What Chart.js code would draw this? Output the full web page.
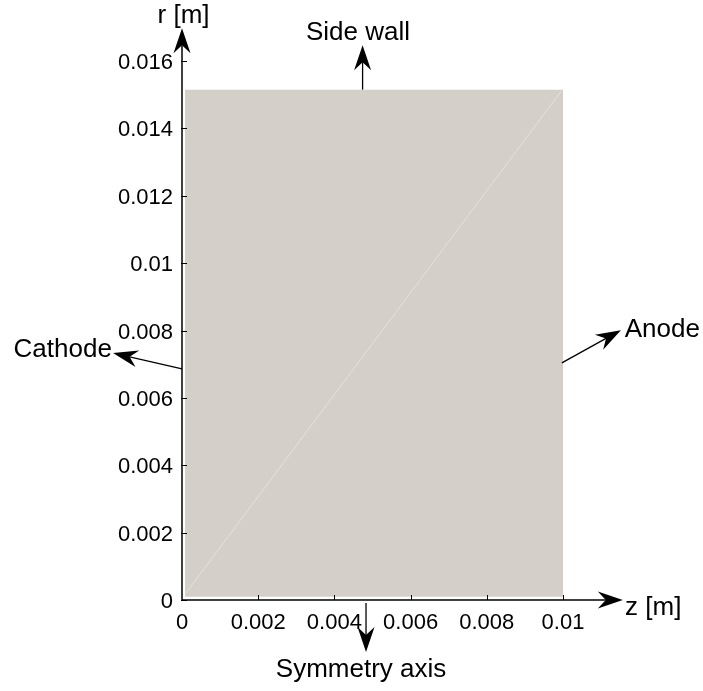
<!DOCTYPE html>
<html>
<head>
<meta charset="utf-8">
<script src="https://cdn.jsdelivr.net/npm/chart.js@4.4.0/dist/chart.umd.min.js"></script>
<style>
  body { margin: 0; background: #fff; }
  #chart { display: block; }
</style>
</head>
<body>
<canvas id="chart" width="703" height="691"></canvas>
<script>
// axis ticks
const zTicks = [0, 0.002, 0.004, 0.006, 0.008, 0.01];
const zTickLabels = ['0', '0.002', '0.004', '0.006', '0.008', '0.01'];
const rTicks = [0, 0.002, 0.004, 0.006, 0.008, 0.01, 0.012, 0.014, 0.016];
const rTickLabels = ['0', '0.002', '0.004', '0.006', '0.008', '0.01', '0.012', '0.014', '0.016'];

// computational domain in (z, r) and its diagonal
const domainZ = [0.00008, 0.01];
const domainR = [0.0001, 0.01515];
const diagonalZ = [0.0001, 0.00995];
const diagonalR = [0.0002, 0.0151];

// axis names and where the axis arrows end
const axisNames = ['z [m]', 'r [m]'];
const axisEnds = [0.01157, 0.01697];

// boundary names, each with an arrow (from -> to) and a text anchor, in data units
const boundaries = [
  { text: 'Side wall',     from: [0.00474, 0.01515],  to: [0.00474, 0.01647],  at: [0.00462, 0.01685],  align: 'center' },
  { text: 'Cathode',       from: [0, 0.00686],        to: [-0.00181, 0.00733], at: [-0.00184, 0.00742], align: 'right' },
  { text: 'Anode',         from: [0.00997, 0.00704],  to: [0.01152, 0.00801],  at: [0.01162, 0.00801],  align: 'left' },
  { text: 'Symmetry axis', from: [0.00483, -0.00009], to: [0.00483, -0.00154], at: [0.0047, -0.00208],  align: 'center' }
];

const tickFont = { family: '"Liberation Sans", Arial, sans-serif', size: 22 };
const labelFont = '26px "Liberation Sans", Arial, sans-serif';

function drawArrow(ctx, x0, y0, x1, y1) {
  const ang = Math.atan2(y1 - y0, x1 - x0);
  const len = 25, half = 8.5, notch = 17;
  const cx = Math.cos(ang), sy = Math.sin(ang);
  ctx.beginPath();
  ctx.moveTo(x0, y0);
  ctx.lineTo(x1 - cx * notch, y1 - sy * notch);
  ctx.stroke();
  const bx = x1 - cx * len, by = y1 - sy * len;
  const px = -sy * half, py = cx * half;
  ctx.beginPath();
  ctx.moveTo(x1, y1);
  ctx.lineTo(bx + px, by + py);
  ctx.lineTo(x1 - cx * notch, y1 - sy * notch);
  ctx.lineTo(bx - px, by - py);
  ctx.closePath();
  ctx.fill();
}

// axes with arrows, inward tick marks and the boundary annotations
const annotate = {
  id: 'annotate',
  afterDraw(chart) {
    const { ctx, scales: { x, y } } = chart;
    const x0 = x.getPixelForValue(0), y0 = y.getPixelForValue(0);
    ctx.save();
    ctx.strokeStyle = '#000';
    ctx.fillStyle = '#000';
    ctx.lineWidth = 1.5;

    drawArrow(ctx, x0, y0, x.getPixelForValue(axisEnds[0]), y0);
    drawArrow(ctx, x0, y0, x0, y.getPixelForValue(axisEnds[1]));

    ctx.lineWidth = 1;
    ctx.beginPath();
    rTicks.forEach(v => {
      const py = Math.round(y.getPixelForValue(v)) + 0.5;
      ctx.moveTo(x0 - 1, py);
      ctx.lineTo(x0 + 5, py);
    });
    zTicks.slice(1).forEach(v => {
      const px = Math.round(x.getPixelForValue(v)) + 0.5;
      ctx.moveTo(px, y0);
      ctx.lineTo(px, y0 - 5);
    });
    ctx.stroke();

    ctx.lineWidth = 1.3;
    boundaries.forEach(b => {
      drawArrow(ctx,
        x.getPixelForValue(b.from[0]), y.getPixelForValue(b.from[1]),
        x.getPixelForValue(b.to[0]), y.getPixelForValue(b.to[1]));
    });

    ctx.font = labelFont;
    ctx.textBaseline = 'middle';
    boundaries.forEach(b => {
      ctx.textAlign = b.align;
      ctx.fillText(b.text, x.getPixelForValue(b.at[0]), y.getPixelForValue(b.at[1]));
    });
    ctx.textAlign = 'left';
    ctx.fillText(axisNames[0], x.getPixelForValue(0.01163), y.getPixelForValue(-0.00024));
    ctx.textAlign = 'center';
    ctx.fillText(axisNames[1], x.getPixelForValue(0.00004), y.getPixelForValue(0.01733));
    ctx.restore();
  }
};

const ctx = document.getElementById('chart').getContext('2d');

new Chart(ctx, {
  type: 'scatter',
  data: {
    datasets: [
      {
        // faint diagonal across the domain, drawn above the fill
        data: [{ x: diagonalZ[0], y: diagonalR[0] }, { x: diagonalZ[1], y: diagonalR[1] }],
        showLine: true,
        fill: false,
        borderColor: '#e4e1dc',
        borderWidth: 1,
        pointRadius: 0,
        order: 0
      },
      {
        data: [{ x: domainZ[0], y: domainR[1] }, { x: domainZ[1], y: domainR[1] }],
        showLine: true,
        fill: { value: domainR[0] },
        backgroundColor: '#d4d0c9',
        borderWidth: 0,
        pointRadius: 0,
        order: 1
      }
    ]
  },
  options: {
    responsive: false,
    animation: false,
    layout: { padding: { left: 0, right: 140, top: 61, bottom: 51 } },
    plugins: { legend: { display: false }, tooltip: { enabled: false } },
    scales: {
      x: {
        type: 'linear',
        min: 0,
        max: 0.01,
        afterBuildTicks: s => { s.ticks = zTicks.map(v => ({ value: v })); },
        afterFit: s => { s.height = 40; },
        ticks: {
          callback: (v, i) => zTickLabels[i],
          font: tickFont,
          color: '#000',
          padding: 10,
          maxRotation: 0,
          autoSkip: false
        },
        grid: { display: false, drawTicks: false },
        border: { display: false }
      },
      y: {
        type: 'linear',
        min: 0,
        max: 0.016,
        afterBuildTicks: s => { s.ticks = rTicks.map(v => ({ value: v })); },
        afterFit: s => { s.width = 182; },
        ticks: {
          callback: (v, i) => rTickLabels[i],
          font: tickFont,
          color: '#000',
          padding: 9,
          labelOffset: 2,
          autoSkip: false
        },
        grid: { display: false, drawTicks: false },
        border: { display: false }
      }
    }
  },
  plugins: [annotate]
});
</script>
</body>
</html>
